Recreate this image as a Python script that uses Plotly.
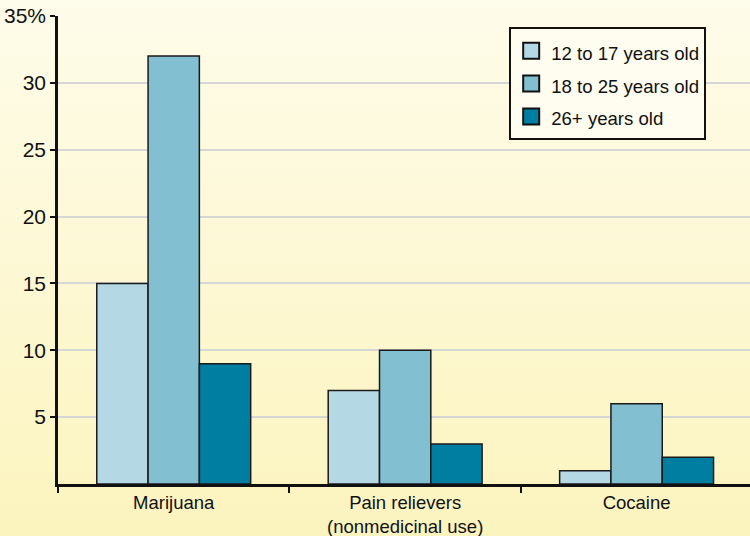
import plotly.graph_objects as go

categories = ["Marijuana", "Pain relievers<br>(nonmedicinal use)", "Cocaine"]
series_names = ["12 to 17 years old", "18 to 25 years old", "26+ years old"]
age_12_17 = [15, 7, 1]
age_18_25 = [32, 10, 6]
age_26_plus = [9, 3, 2]
y_tick_vals = [5, 10, 15, 20, 25, 30, 35]
y_tick_text = ["5", "10", "15", "20", "25", "30", "35%"]

colors = ["#b4d8e4", "#82bfd1", "#007ea2"]
series_values = [age_12_17, age_18_25, age_26_plus]

fig = go.Figure()
for name, vals, col in zip(series_names, series_values, colors):
    fig.add_trace(go.Bar(
        x=categories, y=vals, name=name, showlegend=False,
        marker=dict(color=col, line=dict(color="#1a1a1a", width=1.5)),
    ))
# legend entries (larger square swatches)
for name, col in zip(series_names, colors):
    fig.add_trace(go.Scatter(
        x=[None], y=[None], mode="markers",
        name='<span style="font-size:18.6px">%s</span>' % name,
        marker=dict(symbol="square", size=16, color=col, line=dict(color="#111111", width=2)),
        showlegend=True,
    ))

# vertical gradient background
W, H = 750, 536
ml, mr, mt, mb = 58, 0, 16, 52
pw, ph = W - ml - mr, H - mt - mb
top = (254, 252, 234)
bot = (252, 244, 190)
n = 67
shapes = []
for i in range(n):
    y0px = i * H / n
    y1px = (i + 1) * H / n
    t = (i + 0.5) / n
    c = tuple(round(top[k] + (bot[k] - top[k]) * t) for k in range(3))
    shapes.append(dict(
        type="rect", xref="paper", yref="paper", layer="below",
        x0=-ml / pw - 0.01, x1=1 + 0.05,
        y0=1 - (y1px - mt) / ph - 0.001, y1=1 - (y0px - mt) / ph + 0.001,
        fillcolor="rgb(%d,%d,%d)" % c, line=dict(width=0),
    ))

fig.update_layout(
    width=W, height=H,
    margin=dict(l=ml, r=mr, t=mt, b=mb),
    paper_bgcolor="rgba(0,0,0,0)", plot_bgcolor="rgba(0,0,0,0)",
    barmode="group", bargap=0.335, bargroupgap=0,
    font=dict(family="Liberation Sans, Arial, sans-serif", color="#111111"),
    shapes=shapes,
    legend=dict(
        x=0.652, y=0.976, xanchor="left", yanchor="top",
        bgcolor="#fffdf0", bordercolor="#111111", borderwidth=2,
        font=dict(size=23, color="#111111"),
        itemclick=False,
    ),
    xaxis=dict(
        range=[-0.5, 2.49], showline=True, linecolor="#111111", linewidth=2.5,
        ticks="outside", tickson="boundaries", ticklen=6, tickwidth=2, tickcolor="#111111",
        tickfont=dict(size=18.5), showgrid=False,
    ),
    yaxis=dict(
        range=[0, 35], showline=True, linecolor="#111111", linewidth=2.5,
        tickvals=y_tick_vals, ticktext=y_tick_text,
        ticks="outside", ticklen=5, tickwidth=2, tickcolor="#111111",
        tickfont=dict(size=21), showgrid=True, gridcolor="#d6d6d6", gridwidth=2,
        zeroline=False,
    ),
)

fig.write_html(
    "out.html",
    config={"displayModeBar": False},
    post_script="document.body.style.margin='0';document.body.style.padding='0';document.body.style.overflow='hidden';",
)
